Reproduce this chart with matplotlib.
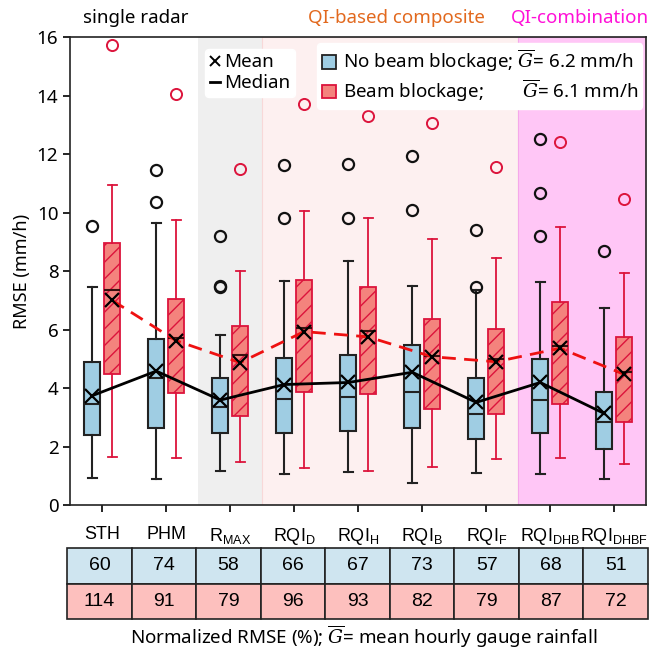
import matplotlib
matplotlib.use("Agg")
import matplotlib.pyplot as plt
from matplotlib.lines import Line2D
from matplotlib.patches import Patch

plt.rcParams['font.family'] = ['Noto Sans', 'DejaVu Sans']
plt.rcParams['mathtext.fontset'] = 'dejavuserif'

# categories
methods = ['STH', 'PHM', r'R$\mathregular{_{MAX}}$', r'RQI$\mathregular{_{D}}$',
           r'RQI$\mathregular{_{H}}$', r'RQI$\mathregular{_{B}}$', r'RQI$\mathregular{_{F}}$',
           r'RQI$\mathregular{_{DHB}}$', r'RQI$\mathregular{_{DHBF}}$']

# no beam blockage (RMSE, mm/h)
nb_whislo = [0.93, 0.88, 1.17, 1.05, 1.12, 0.76, 1.10, 1.05, 0.89]
nb_q1 = [2.39, 2.62, 2.47, 2.47, 2.53, 2.64, 2.25, 2.45, 1.90]
nb_med = [3.46, 4.35, 3.36, 3.62, 3.70, 3.86, 3.10, 3.59, 2.83]
nb_q3 = [4.88, 5.66, 4.33, 5.04, 5.13, 5.46, 4.33, 5.00, 3.85]
nb_whishi = [7.44, 9.65, 5.83, 7.67, 8.33, 7.48, 7.35, 7.61, 6.75]
nb_mean = [3.74, 4.58, 3.59, 4.12, 4.19, 4.54, 3.51, 4.19, 3.13]
nb_fliers = [[9.55], [11.47, 10.37], [9.2, 7.5, 7.45], [11.62, 9.8], [11.65, 9.83],
             [13.94, 11.95, 10.1], [9.42, 7.45], [12.5, 10.66, 9.2], [8.67]]

# beam blockage (RMSE, mm/h)
bb_whislo = [1.63, 1.60, 1.46, 1.28, 1.16, 1.31, 1.56, 1.62, 1.39]
bb_q1 = [4.47, 3.84, 3.05, 3.88, 3.78, 3.28, 3.10, 3.45, 2.85]
bb_med = [7.36, 5.71, 5.13, 6.07, 5.96, 5.10, 5.01, 5.44, 4.56]
bb_q3 = [8.97, 7.03, 6.13, 7.69, 7.44, 6.35, 6.03, 6.93, 5.73]
bb_whishi = [10.94, 9.74, 8.00, 10.06, 9.80, 9.08, 8.46, 9.52, 7.94]
bb_mean = [7.00, 5.62, 4.87, 5.93, 5.75, 5.07, 4.90, 5.36, 4.47]
bb_fliers = [[15.72], [14.05], [11.5], [13.7], [13.3], [13.05], [11.55], [12.42], [10.45]]

# normalized RMSE (%)
nb_norm = [60, 74, 58, 66, 67, 73, 57, 68, 51]
bb_norm = [114, 91, 79, 96, 93, 82, 79, 87, 72]


def make_stats(lo, q1, med, q3, hi, mean, fliers):
    return [dict(whislo=a, q1=b, med=c, q3=d, whishi=e, mean=f, fliers=g)
            for a, b, c, d, e, f, g in zip(lo, q1, med, q3, hi, mean, fliers)]


blue = '#9fcde3'
salmon = '#f4837d'
crimson = '#dc143c'

fig = plt.figure(figsize=(6.56, 6.50), dpi=100)
ax = fig.add_axes([0.107, 0.223, 0.878, 0.72])

# background groups
ax.axvspan(1.5, 2.5, color='#efefef', lw=0, zorder=0)
ax.axvspan(2.5, 6.5, facecolor='#fdf0f0', edgecolor='#f8d8d8', lw=0.8, zorder=0)
ax.axvspan(6.5, 8.5, facecolor='#ffc6f6', edgecolor='#f5a8ea', lw=0.8, zorder=0)

x = list(range(len(methods)))
off = 0.155
pos_nb = [i - off for i in x]
pos_bb = [i + off for i in x]

ax.bxp(make_stats(nb_whislo, nb_q1, nb_med, nb_q3, nb_whishi, nb_mean, nb_fliers),
       positions=pos_nb, widths=0.25, capwidths=0.14, patch_artist=True, showmeans=False,
       boxprops=dict(facecolor=blue, edgecolor='#222222', lw=1.5),
       medianprops=dict(color='#222222', lw=1.5),
       whiskerprops=dict(color='#222222', lw=1.5),
       capprops=dict(color='#222222', lw=1.5),
       flierprops=dict(marker='o', markerfacecolor='none', markeredgecolor='#111111',
                       markersize=8, markeredgewidth=1.6),
       manage_ticks=False)

ax.bxp(make_stats(bb_whislo, bb_q1, bb_med, bb_q3, bb_whishi, bb_mean, bb_fliers),
       positions=pos_bb, widths=0.25, capwidths=0.14, patch_artist=True, showmeans=False,
       boxprops=dict(facecolor=salmon, edgecolor=crimson, lw=1.3, hatch='//'),
       medianprops=dict(color='#3a1010', lw=1.5),
       whiskerprops=dict(color=crimson, lw=1.3),
       capprops=dict(color=crimson, lw=1.3),
       flierprops=dict(marker='o', markerfacecolor='none', markeredgecolor=crimson,
                       markersize=8, markeredgewidth=1.4),
       manage_ticks=False)

# mean lines and markers
ax.plot(pos_nb, nb_mean, color='black', lw=2, zorder=4)
ax.plot(pos_bb, bb_mean, color='#ee1111', lw=2, ls=(0, (5, 3)), zorder=4)
ax.plot(pos_nb, nb_mean, ls='none', marker='x', color='black', ms=10, mew=1.6, zorder=5)
ax.plot(pos_bb, bb_mean, ls='none', marker='x', color='black', ms=10, mew=1.6, zorder=5)

ax.set_xlim(-0.5, 8.5)
ax.set_ylim(0, 16)
ax.set_yticks(range(0, 17, 2))
ax.set_xticks(x)
ax.set_xticklabels(methods, fontsize=13, family=['Liberation Sans', 'DejaVu Sans'])
ax.tick_params(axis='x', length=5, width=1.2, pad=10)
ax.tick_params(axis='y', labelsize=13.5, length=5, width=1.2)
ax.set_ylabel('RMSE (mm/h)', fontsize=13)
for sp in ax.spines.values():
    sp.set_linewidth(1.2)
    sp.set_color('#222222')

# group titles
ax.text(0.53, 1.022, 'single radar', transform=ax.get_xaxis_transform(),
        ha='center', va='bottom', fontsize=13.5, color='black')
ax.text(4.6, 1.022, 'QI-based composite', transform=ax.get_xaxis_transform(),
        ha='center', va='bottom', fontsize=13.5, color='#e2691e')
ax.text(7.47, 1.022, 'QI-combination', transform=ax.get_xaxis_transform(),
        ha='center', va='bottom', fontsize=13.5, color='#ff10d8')

# legends
h1 = [Line2D([], [], ls='none', marker='x', color='black', ms=7, mew=1.4),
      Line2D([], [], color='black', lw=2)]
leg1 = ax.legend(h1, ['Mean', 'Median'], loc='upper left', bbox_to_anchor=(0.218, 0.995),
                 fontsize=13.5, handlelength=0.55, handletextpad=0.2, borderpad=0.25,
                 labelspacing=0.15, framealpha=1, edgecolor='white')
ax.add_artist(leg1)
h2 = [Patch(facecolor=blue, edgecolor='#222222', lw=1.3),
      Patch(facecolor=salmon, edgecolor=crimson, lw=1.3)]
lab2 = [r'No beam blockage; $\overline{G}$= 6.2 mm/h',
        r'Beam blockage;        $\overline{G}$= 6.1 mm/h']
ax.legend(h2, lab2, loc='upper right', bbox_to_anchor=(1.0, 0.995), fontsize=13.5,
          handlelength=0.75, handleheight=0.75, handletextpad=0.35, borderpad=0.25,
          labelspacing=0.15, framealpha=1, edgecolor='white', borderaxespad=0.2)

# table of normalized RMSE
cell_colors = [['#cfe5f0'] * len(x), ['#fdc0be'] * len(x)]
tb = ax.table(cellText=[[str(v) for v in nb_norm], [str(v) for v in bb_norm]],
              cellColours=cell_colors, cellLoc='center',
              bbox=[-0.005, -0.244, 1.008, 0.152])
tb.auto_set_font_size(False)
for cell in tb.get_celld().values():
    cell.set_linewidth(1.2)
    cell.set_edgecolor('#222222')
    cell.get_text().set_fontsize(14)
    cell.get_text().set_family(['Liberation Sans', 'DejaVu Sans'])

fig.text(0.555, 0.02, r'Normalized RMSE (%); $\overline{G}$= mean hourly gauge rainfall',
         ha='center', va='center', fontsize=13.5)

fig.savefig('out.png', dpi=100)
